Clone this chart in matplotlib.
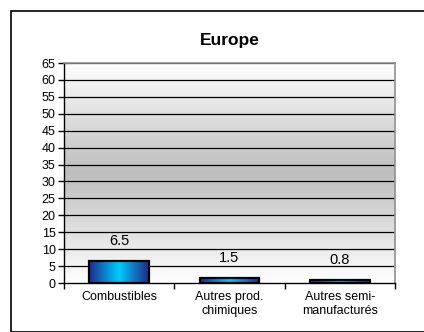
import numpy as np
import matplotlib
matplotlib.use("Agg")
import matplotlib.pyplot as plt
from matplotlib.colors import LinearSegmentedColormap
from matplotlib.patches import Rectangle
import matplotlib.font_manager as fm

categories = ["Combustibles", "Autres prod.\nchimiques", "Autres semi-\nmanufacturés"]
values = [6.5, 1.5, 0.8]
labels = ["6.5", "1.5", "0.8"]
yticks = list(range(0, 70, 5))
title = "Europe"

names = {f.name for f in fm.fontManager.ttflist}
narrow = "Liberation Sans Narrow" if "Liberation Sans Narrow" in names else "Liberation Sans"
plt.rcParams['font.family'] = [narrow, 'DejaVu Sans']

fig = plt.figure(figsize=(4.24, 3.32), dpi=100)
# outer border
fig.patches.append(Rectangle((11/424, 0), 1.2, 1 - 11/332, transform=fig.transFigure,
                             fill=False, edgecolor='black', linewidth=1.2))
ax = fig.add_axes([64/424, 1 - 283/332, (395-64)/424, (283-63)/332])
ax.set_xlim(-0.5, 2.5)
ax.set_ylim(0, 65)

# background gradient: white top -> gray middle -> white bottom
bg = LinearSegmentedColormap.from_list("bg", [(0, "#ffffff"), (0.5, "#bdbdbd"), (1.0, "#ffffff")])
grad = np.linspace(0, 1, 256).reshape(-1, 1)
ax.imshow(grad, extent=[-0.5, 2.5, 0, 65], aspect='auto', cmap=bg, origin='lower', zorder=0)

for y in yticks[1:]:
    ax.axhline(y, color='black', linewidth=0.9, zorder=1)

barcmap = LinearSegmentedColormap.from_list("bar", [(0, "#1e2a8c"), (0.5, "#00ccff"), (1.0, "#1e2a8c")])
hgrad = np.linspace(0, 1, 256).reshape(1, -1)
x = np.arange(len(values))
w = 0.54
bars = ax.bar(x, values, width=w, facecolor='none', edgecolor='black', linewidth=1.6, zorder=3)
for b in bars:
    bx, by = b.get_x(), b.get_y()
    im = ax.imshow(hgrad, extent=[bx, bx + b.get_width(), by, by + b.get_height()],
                   aspect='auto', cmap=barcmap, zorder=2)
for xi, v, lab in zip(x, values, labels):
    ax.annotate(lab, (xi, v), xytext=(0, 14.5), textcoords='offset points',
                ha='center', va='center', fontsize=10.5, color='black', zorder=4)

ax.set_yticks(yticks)
ax.set_yticklabels([str(t) for t in yticks], fontsize=9)
ax.set_xticks([-0.5, 0.5, 1.5, 2.5])
ax.set_xticklabels([])
ax.set_xticks(x, minor=True)
ax.set_xticklabels(categories, minor=True, fontsize=9)
ax.tick_params(axis='x', which='minor', length=0, pad=6)
ax.tick_params(axis='x', which='major', length=4, direction='out', width=1)
ax.tick_params(axis='y', length=4, width=1, pad=2)
for s in ['top', 'right']:
    ax.spines[s].set_color('#909090')
    ax.spines[s].set_linewidth(1.2)
for s in ['left', 'bottom']:
    ax.spines[s].set_color('black')
    ax.spines[s].set_linewidth(1.0)

fig.text((64+395)/2/424, 1 - 41/332, title, ha='center', va='center', fontsize=12.5,
         fontweight='bold', family='Liberation Sans')

fig.savefig("out.png", dpi=100)
